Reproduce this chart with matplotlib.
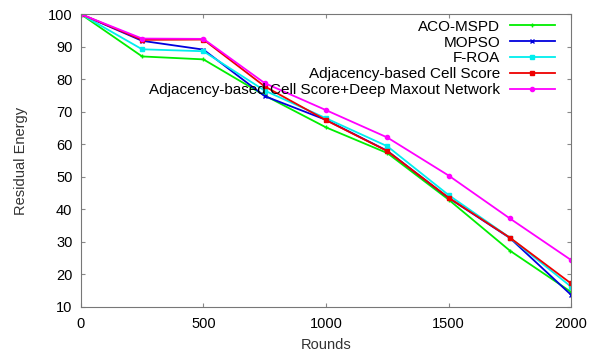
import matplotlib
matplotlib.use("Agg")
import matplotlib.pyplot as plt

plt.rcParams['font.family'] = ['Liberation Sans', 'DejaVu Sans']

rounds = [0, 250, 500, 750, 1000, 1250, 1500, 1750, 2000]

aco_mspd = [100, 87.0, 86.1, 75.0, 65.2, 57.3, 43.0, 27.3, 14.6]
mopso = [100, 91.8, 89.1, 74.8, 67.5, 58.0, 43.5, 31.2, 13.7]
f_roa = [100, 89.2, 88.6, 76.5, 68.0, 59.4, 44.4, 31.3, 16.2]
acs = [100, 92.1, 92.2, 77.8, 67.4, 57.9, 43.6, 31.3, 17.2]
acs_dmn = [100, 92.5, 92.4, 78.8, 70.5, 62.1, 50.4, 37.2, 24.4]

labels = ['ACO-MSPD', 'MOPSO', 'F-ROA', 'Adjacency-based Cell Score',
          'Adjacency-based Cell Score+Deep Maxout Network']
colors = ['#00ee00', '#0000dd', '#00eeee', '#ee0000', '#ff00ff']
markers = ['+', 'x', 's', 's', 'o']
series = [aco_mspd, mopso, f_roa, acs, acs_dmn]

fig = plt.figure(figsize=(5.9, 3.54), dpi=100)
ax = fig.add_axes([0.137, 0.133, 0.831, 0.827])

for vals, lab, c, m in zip(series, labels, colors, markers):
    ax.plot(rounds, vals, color=c, marker=m, markersize=3, markeredgewidth=1.0,
            linewidth=1.3, label=lab)

ax.set_xlim(0, 2000)
ax.set_ylim(10, 100)
ax.set_xticks([0, 500, 1000, 1500, 2000])
ax.set_yticks(range(10, 101, 10))
ax.tick_params(direction='in', top=True, right=True, length=3, color='#888888',
               labelsize=10.5)
ax.tick_params(axis='x', pad=7)
ax.tick_params(axis='y', pad=6)
for s in ax.spines.values():
    s.set_color('#777777')
    s.set_linewidth(0.8)

ax.set_xlabel('Rounds', fontsize=10.5, color='#333333', labelpad=5)
ax.set_ylabel('Residual Energy', fontsize=10.5, color='#333333', labelpad=14)

ax.legend(loc='upper right', bbox_to_anchor=(0.985, 1.012), frameon=False,
          markerfirst=False, fontsize=11, handlelength=2.9, handletextpad=0.65,
          labelspacing=0.12, borderpad=0.1)

fig.savefig('out.png', dpi=100)
